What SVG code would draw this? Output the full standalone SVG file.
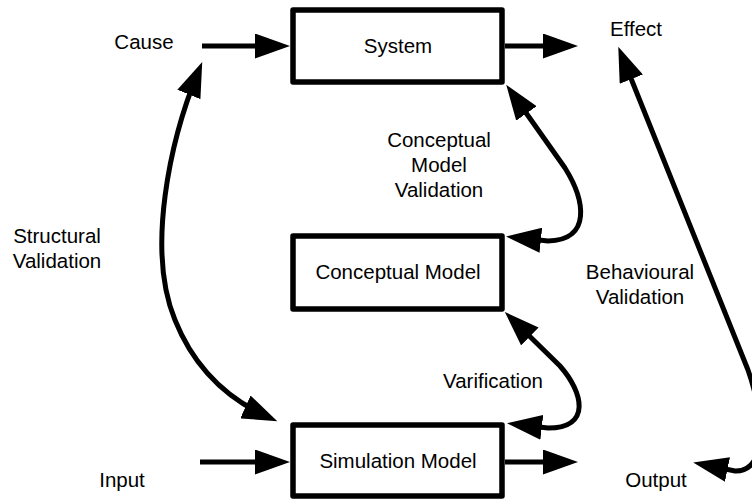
<svg xmlns="http://www.w3.org/2000/svg" width="752" height="500" viewBox="0 0 752 500">
<defs>
<style>
.box{fill:#fff;stroke:#000;stroke-width:5.5;stroke-linejoin:round}
.lbl{font-family:"Liberation Sans",Arial,sans-serif;font-size:20.5px;fill:#000;text-anchor:middle}
.con{fill:none;stroke:#000;stroke-width:5}
.a1{marker-end:url(#ah)}
.a2{marker-start:url(#ah);marker-end:url(#ah)}
</style>
<marker id="ah" markerUnits="userSpaceOnUse" viewBox="0 0 35 25" markerWidth="35" markerHeight="25" refX="25" refY="12.5" orient="auto-start-reverse">
<path d="M0,0 L35,12.5 L0,25 z" fill="#000"/>
</marker>
</defs>
<rect width="752" height="500" fill="#fff"/>
<g id="connectors">
<path class="con a1" d="M202,46 L280,46"/>
<path class="con a1" d="M505,46 L568,46"/>
<path class="con a1" d="M200,462 L280,462"/>
<path class="con a1" d="M505,462 L568,462"/>
<path class="con a2" d="M512,93 L565,168 C585,200 592,240 548,241 L516,237.6"/>
<path class="con a2" d="M512,319 L560,366 C583,392 592,428 548,428 L517,424.4"/>
<path class="con a2" d="M198.4,71.3 C170,140 146,250 175,320 C195,370 230,400 268.2,417.2"/>
<path class="con a2" d="M622,56 L748,370 C762,410 770,472 735,471 L703,464.5"/>
</g>
<g id="system"><rect class="box" x="293" y="10" width="209" height="72"/><text class="lbl" x="398" y="53">System</text></g>
<g id="conceptual-model"><rect class="box" x="293" y="236" width="209" height="73"/><text class="lbl" x="398" y="279">Conceptual Model</text></g>
<g id="simulation-model"><rect class="box" x="293" y="425" width="209" height="71"/><text class="lbl" x="398" y="468">Simulation Model</text></g>
<g id="labels">
<text class="lbl" x="144" y="49">Cause</text>
<text class="lbl" x="636" y="36">Effect</text>
<text class="lbl" x="122" y="487">Input</text>
<text class="lbl" x="656" y="487">Output</text>
<text class="lbl" x="57" y="243">Structural</text>
<text class="lbl" x="57" y="268">Validation</text>
<text class="lbl" x="439" y="147">Conceptual</text>
<text class="lbl" x="439" y="172">Model</text>
<text class="lbl" x="439" y="197">Validation</text>
<text class="lbl" x="640" y="279">Behavioural</text>
<text class="lbl" x="640" y="304">Validation</text>
<text class="lbl" x="493" y="388">Varification</text>
</g>
</svg>
